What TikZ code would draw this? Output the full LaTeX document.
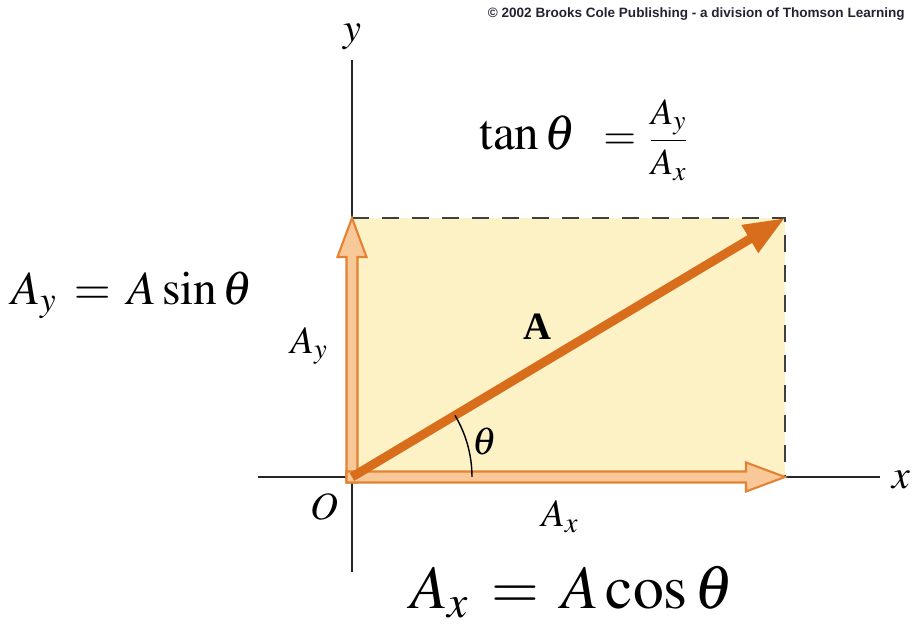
\documentclass[tikz,border=0pt]{standalone}
\usepackage{amsmath}
\usepackage{mathptmx}
\usepackage{fontspec}
\setmainfont{Liberation Serif}
\newfontfamily\credfont{Liberation Sans}
\usepackage{tikz}
\usetikzlibrary{arrows.meta,calc}
\definecolor{boxfill}{RGB}{253,241,198}
\definecolor{vecorange}{RGB}{216,110,28}
\definecolor{compline}{RGB}{228,130,52}
\definecolor{compfill}{RGB}{249,200,152}
\definecolor{credgray}{RGB}{35,35,50}

\begin{document}
\begin{tikzpicture}[
    axis/.style={line width=1.1pt,black!85},
    guide/.style={line width=1.3pt,black!75,dash pattern=on 0.34cm off 0.26cm},
    comp/.style={draw=compline,fill=compfill,line width=1.2pt,line join=miter},
    vec/.style={line width=0.18cm,vecorange,-{Triangle[length=0.82cm,width=0.6cm]}},
    lbl/.style={font=\fontsize{22}{26}\selectfont},
    axlbl/.style={font=\fontsize{23}{26}\selectfont}]
  \useasboundingbox (-7.04,-3.02) rectangle (11.22,9.54);
  \coordinate (O) at (0,0);
  \coordinate (R) at (8.66,5.18);
  \coordinate (Ytip) at (0,5.18);
  \coordinate (Xtip) at (8.66,0);
  \coordinate (xl) at (-1.88,0);
  \coordinate (xr) at (10.56,0);
  \coordinate (yb) at (0,-1.9);
  \coordinate (yt) at (0,8.34);
  % shaded box and guides
  \fill[boxfill] (O) rectangle (R);
  \draw[axis] (xl) -- (xr);
  \draw[axis] (yb) -- (yt);
  \draw[guide] (Ytip) -- (R) -- (Xtip);
  % components
  \draw[comp] ($(O)+(-0.11,-0.11)$) -- ($(Ytip)+(-0.11,-0.78)$)
    -- ($(Ytip)+(-0.29,-0.78)$) -- (Ytip) -- ($(Ytip)+(0.29,-0.78)$)
    -- ($(Ytip)+(0.11,-0.78)$) -- ($(O)+(0.11,-0.11)$) -- cycle;
  \draw[comp] ($(O)+(-0.11,-0.11)$) -- ($(Xtip)+(-0.78,-0.11)$)
    -- ($(Xtip)+(-0.78,-0.29)$) -- (Xtip) -- ($(Xtip)+(-0.78,0.29)$)
    -- ($(Xtip)+(-0.78,0.11)$) -- ($(O)+(-0.11,0.11)$) -- cycle;
  % vector A
  \draw[vec] (O) -- (R);
  \draw[line width=0.8pt] (2.4,0) arc[start angle=0,end angle=30.9,radius=2.4];
  % labels
  \node[font=\fontsize{22}{26}\selectfont\bfseries] (Alab) at (3.7,3.0) {A};
  \node[lbl] (th) at (2.66,0.7) {$\theta$};
  \node[lbl] (Olab) at (-0.56,-0.6) {$O$};
  \node[lbl] (Axlab) at (4.16,-0.8) {$A_x$};
  \node[lbl] (Aylab) at (-0.86,2.62) {$A_y$};
  \node[axlbl] (ylab) at (0,8.8) {$y$};
  \node[axlbl] (xlab) at (10.98,-0.06) {$x$};
  \node (tan) at (4.64,6.74) {\fontsize{28}{32}\selectfont$\tan\theta$\hspace{0.55em}%
    \fontsize{24}{28}\selectfont$=$\hspace{0.3em}\fontsize{21}{24}\selectfont$\dfrac{A_y}{A_x}$};
  \node[font=\fontsize{27}{32}\selectfont] (sineq) at (-4.4,3.64) {$A_y \:=\: A\sin\theta$};
  \node[font=\fontsize{35}{40}\selectfont] (coseq) at (4.4,-2.3) {$A_x \:=\: A\cos\theta$};
  \node[font=\credfont\fontsize{7.7}{9}\selectfont\bfseries,text=credgray,
        anchor=east,inner sep=0pt] (cred) at (11.06,9.26)
    {© 2002 Brooks Cole Publishing - a division of Thomson Learning};
\end{tikzpicture}
\end{document}
